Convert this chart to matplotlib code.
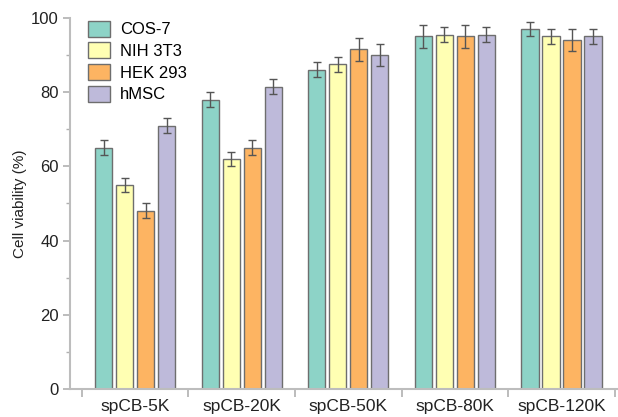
import matplotlib.pyplot as plt
import matplotlib.patches as mpatches
from matplotlib.ticker import MultipleLocator, FixedLocator, NullFormatter
import numpy as np

plt.rcParams['font.family'] = ['Liberation Sans', 'DejaVu Sans']

# ── Data ─────────────────────────────────────────────────────────────────────
groups = ["spCB-5K", "spCB-20K", "spCB-50K", "spCB-80K", "spCB-120K"]
cells = ["COS-7", "NIH 3T3", "HEK 293", "hMSC"]
colors = ["#8dd3c7", "#ffffb3", "#fdb462", "#bebada"]

cos7 = [65, 78, 86, 95, 97]
nih3t3 = [55, 62, 87.5, 95.5, 95]
hek293 = [48, 65, 91.5, 95, 94]
hmsc = [71, 81.5, 90, 95.5, 95]

cos7_err = [2, 2, 2, 3, 2]
nih3t3_err = [2, 2, 2, 2, 2]
hek293_err = [2, 2, 3, 3, 3]
hmsc_err = [2, 2, 3, 2, 2]

values = [cos7, nih3t3, hek293, hmsc]
errors = [cos7_err, nih3t3_err, hek293_err, hmsc_err]

# ── Plot ─────────────────────────────────────────────────────────────────────
fig = plt.figure(figsize=(6.18, 4.17), dpi=100)
ax = fig.add_axes([0.113, 0.067, 0.887, 0.89])

x = np.arange(len(groups))
pitch = 0.197
width = 0.16
for i, (vals, errs, color, label) in enumerate(zip(values, errors, colors, cells)):
    pos = x + (i - 1.5) * pitch
    ax.bar(pos, vals, width=width, color=color, edgecolor="#6e6e6e",
           linewidth=1.0, label=label, zorder=2)
    ax.errorbar(pos, vals, yerr=errs, fmt="none", ecolor="#555555",
                elinewidth=1.0, capsize=3, capthick=1.0, zorder=3)

ax.set_ylim(0, 100)
ax.set_xlim(-0.613, 4.53)

ax.yaxis.set_major_locator(MultipleLocator(20))
ax.yaxis.set_minor_locator(MultipleLocator(10))
ax.set_ylabel("Cell viability (%)", fontsize=11, color="#222222", labelpad=3)

ax.set_xticks(x)
ax.set_xticklabels(groups)
ax.xaxis.set_minor_locator(FixedLocator(np.arange(-0.5, 5.0, 1.0)))
ax.xaxis.set_minor_formatter(NullFormatter())
ax.tick_params(axis="x", which="major", length=0, labelsize=12.5, pad=7,
               labelcolor="#222222")
ax.tick_params(axis="x", which="minor", length=6, width=1.2, color="#b0b0b0")
ax.tick_params(axis="y", which="major", length=5, width=1.2, color="#b0b0b0",
               labelsize=12, labelcolor="#222222", pad=3)
ax.tick_params(axis="y", which="minor", length=3, width=1.0, color="#b0b0b0")

for side in ["top", "right"]:
    ax.spines[side].set_visible(False)
for side in ["left", "bottom"]:
    ax.spines[side].set_color("#bdbdbd")
    ax.spines[side].set_linewidth(1.5)

handles = [mpatches.FancyBboxPatch((0, 0), 1, 1, boxstyle="round,pad=0.1",
                                   facecolor=c, edgecolor="#6e6e6e", linewidth=1.0)
           for c in colors]
ax.legend(handles, cells, loc="upper left", bbox_to_anchor=(0.015, 1.02),
          frameon=False, fontsize=12, handlelength=1.3, handleheight=1.1,
          handletextpad=0.6, labelspacing=0.3, borderaxespad=0.2)

fig.savefig("out.png", dpi=100)
